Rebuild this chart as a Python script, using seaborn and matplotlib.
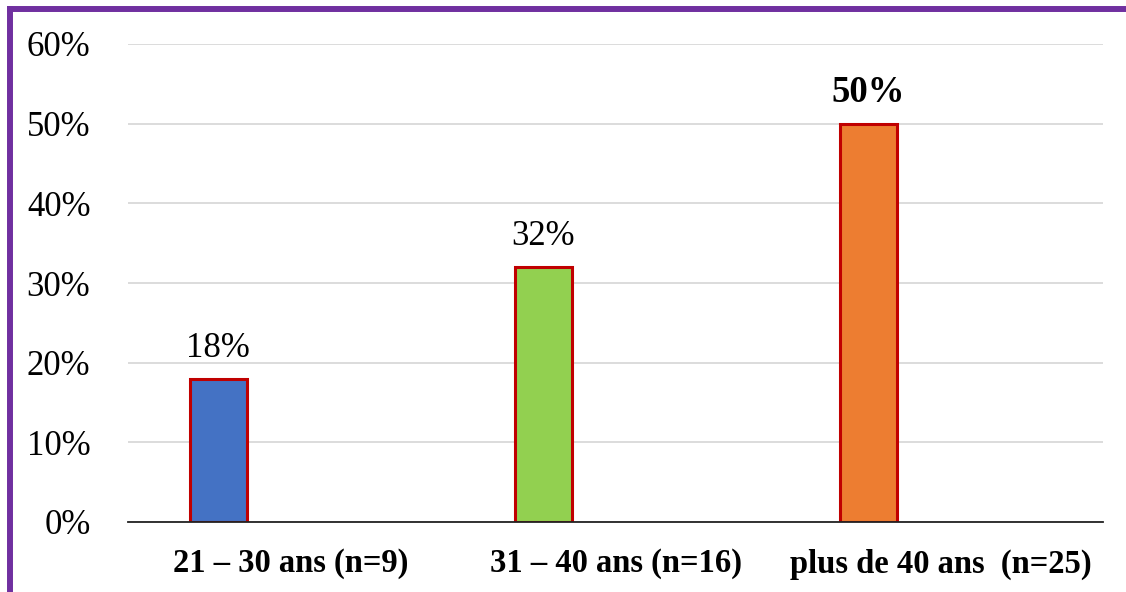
import matplotlib
matplotlib.use("Agg")
import matplotlib.pyplot as plt
from matplotlib.lines import Line2D
from matplotlib.ticker import FuncFormatter
import seaborn as sns
import pandas as pd

categories = ["21 – 30 ans (n=9)", "31 – 40 ans (n=16)", "plus de 40 ans  (n=25)"]
values = [18, 32, 50]
labels = ["18%", "32%", "50%"]
label_bold = [False, False, True]
colors = ["#4472C4", "#92D050", "#ED7D31"]
yticks = [0, 10, 20, 30, 40, 50, 60]

sns.set_theme(style="white")
plt.rcParams['font.family'] = ['Liberation Serif', 'DejaVu Serif']

W, H = 1126, 592
fig = plt.figure(figsize=(W / 100, H / 100), dpi=100)
ax = fig.add_axes([128 / W, (H - 522) / H, 975 / W, 478 / H])

df = pd.DataFrame({"cat": categories, "val": values})
sns.barplot(data=df, x="cat", y="val", hue="cat", palette=colors, legend=False,
            saturation=1, width=0.175, edgecolor="#C00000", linewidth=2.2, ax=ax, zorder=3)

shift = 0.222
for p in ax.patches:
    p.set_x(p.get_x() - shift)

for i, (v, lab, b) in enumerate(zip(values, labels, label_bold)):
    ax.annotate(lab, xy=(i - shift, v), xytext=(0, 10), textcoords="offset points",
                ha="center", va="bottom", fontsize=26.5 if b else 25,
                fontweight="bold" if b else "normal", color="black")

ax.set_ylim(0, 60)
ax.set_xlim(-0.5, 2.5)
ax.set_yticks(yticks)
ax.yaxis.set_major_formatter(FuncFormatter(lambda v, _: f"{int(v)}%"))
ax.grid(axis="y", color="#D9D9D9", linewidth=1.3, zorder=0)
ax.set_axisbelow(True)
for s in ["top", "right", "left"]:
    ax.spines[s].set_visible(False)
ax.spines["bottom"].set_color("#222222")
ax.spines["bottom"].set_linewidth(1.3)
ax.spines["bottom"].set_zorder(4)
ax.tick_params(axis="y", length=0, pad=27, labelsize=25, labelcolor="black")
ax.tick_params(axis="x", length=0, pad=19, labelsize=23.5, labelcolor="black")
for t in ax.get_xticklabels():
    t.set_fontweight("bold")
ax.set_xlabel("")
ax.set_ylabel("")

purple = "#7030A0"
fig.add_artist(Line2D([10 / W, 10 / W], [0, 1 - 9 / H], color=purple, linewidth=4.3,
                      solid_capstyle="projecting", transform=fig.transFigure))
fig.add_artist(Line2D([10 / W, 1.0], [1 - 9 / H, 1 - 9 / H], color=purple, linewidth=4.3,
                      solid_capstyle="projecting", transform=fig.transFigure))

fig.savefig("out.png", dpi=100)
